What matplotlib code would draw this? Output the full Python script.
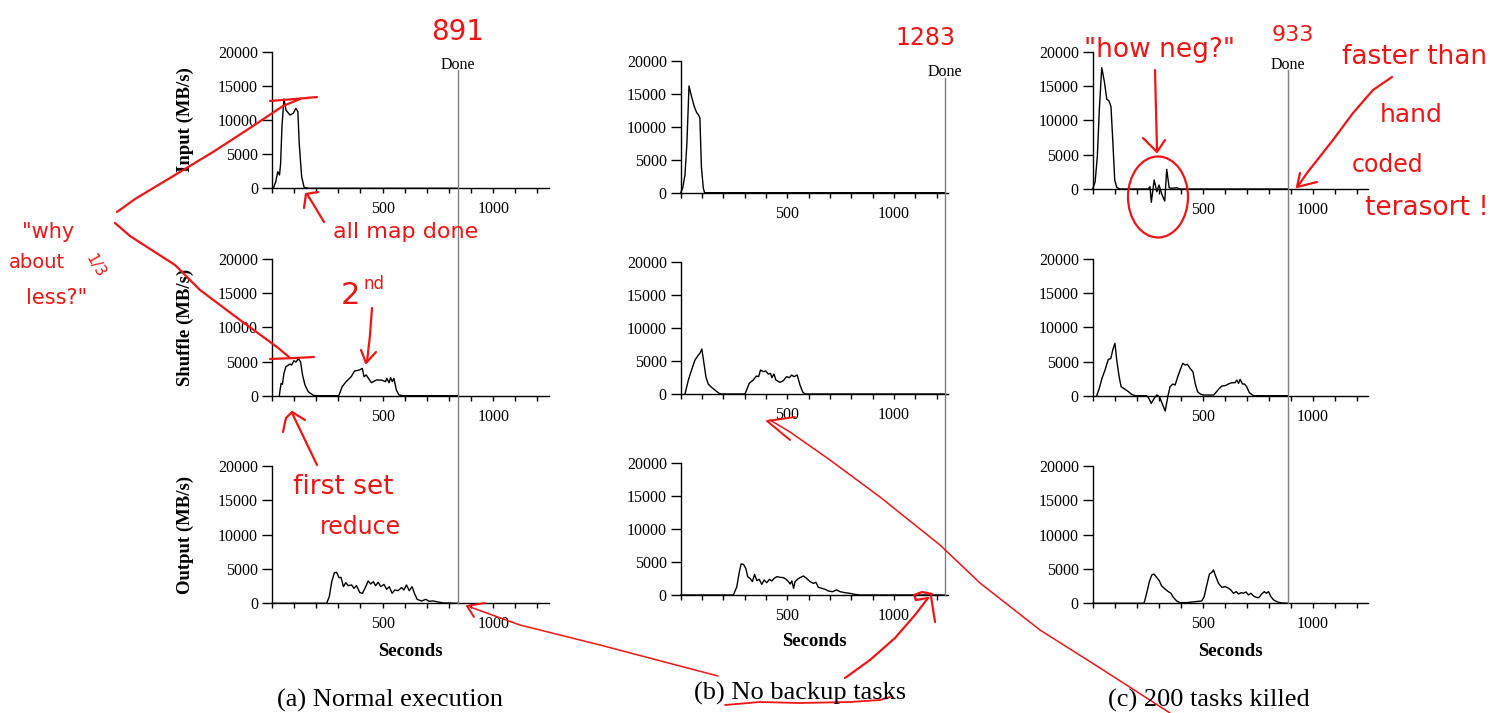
#MapReduce sort data rates (input / shuffle / output) with red hand notes on top
import matplotlib.pyplot as plt
import matplotlib.transforms as mtrans
from matplotlib.patches import Ellipse

plt.rcParams['font.family'] = ['Liberation Serif', 'DejaVu Serif']

W, H = 1501, 713

#values: seconds, MB/s
a_in_t = [2, 6, 17, 26, 34, 39, 45, 54, 63, 81, 96, 108, 117, 123, 134, 145, 164, 842]
a_in_v = [0, 0, 970, 2430, 1950, 3660, 9020, 13070, 11460, 10730, 10980, 11710, 11220, 6590, 1700, 150, 0, 0]
a_sh_t = [33, 41, 47, 54, 63, 81, 89, 99, 108, 119, 129, 138, 149, 164, 187, 202, 302, 317, 335, 358, 373, 396,
          408, 416, 426, 449, 471, 494, 513, 519, 529, 536, 544, 551, 562, 574, 592, 842]
a_sh_v = [0, 1810, 1660, 3280, 4240, 4630, 4490, 5120, 4920, 5410, 4970, 3030, 1570, 580, 50, 0, 0, 1320, 2050, 2780, 3610, 3760,
          4000, 2780, 3030, 1900, 2290, 2290, 2050, 2540, 1900, 2630, 2050, 2540, 830, 100, 0, 0]
a_out_t = [0, 247, 259, 270, 282, 292, 303, 312, 323, 333, 345, 360, 370, 382, 397, 409, 420, 435, 446, 458, 468, 480,
           492, 506, 518, 530, 543, 555, 570, 585, 596, 608, 620, 633, 645, 656, 676, 695, 710, 728, 751, 774, 842]
a_out_v = [0, 0, 970, 3150, 4460, 4510, 3730, 3780, 2420, 3000, 2570, 2670, 2180, 2570, 1550, 1460, 2180, 3250, 2810, 3150, 2570, 3060,
           2420, 2760, 2040, 2420, 1460, 1940, 1840, 2280, 1940, 2670, 1840, 2420, 1360, 580, 340, 580, 290, 340, 190, 50, 0]

b_in_t = [0, 9, 20, 29, 39, 51, 64, 75, 84, 90, 97, 106, 112, 1238]
b_in_v = [0, 670, 2690, 7500, 16210, 14580, 13040, 12150, 11800, 11290, 3950, 670, 0, 0]
b_sh_t = [20, 36, 51, 67, 83, 90, 99, 109, 118, 129, 141, 160, 180, 191, 301, 309, 321, 340, 355, 365, 374, 387, 398,
          410, 421, 427, 437, 446, 465, 481, 496, 509, 520, 531, 546, 559, 571, 581, 1238]
b_sh_v = [0, 2120, 3630, 5140, 5900, 6150, 6800, 4640, 2620, 1510, 1110, 600, 100, 0, 0, 600, 1610, 2120, 2720, 2620, 3630, 3380, 3480,
          3020, 3120, 2470, 3020, 2120, 1760, 2020, 2620, 2470, 2870, 2620, 2870, 1360, 350, 0, 0]
b_out_t = [0, 247, 263, 275, 283, 294, 305, 314, 325, 336, 346, 357, 368, 380, 391, 403, 416, 427, 438, 451, 466, 482, 494,
           505, 513, 521, 529, 536, 547, 559, 575, 590, 606, 622, 634, 645, 661, 677, 692, 711, 731, 747, 770, 793, 816, 840, 1238]
b_out_v = [0, 0, 1260, 3530, 4690, 4640, 4030, 2770, 2520, 2020, 3120, 2170, 2370, 1610, 2270, 1860, 2370, 2120, 2520, 2770, 2670, 2620, 2370,
           2020, 1660, 2120, 1010, 2020, 2370, 2620, 2870, 2520, 2020, 1760, 1910, 1160, 1010, 860, 600, 500, 760, 500, 350, 250, 100, 0, 0]

c_in_t = [0, 11, 21, 30, 41, 53, 64, 74, 83, 91, 100, 109, 124, 253, 260, 266, 279, 291, 301, 315, 327, 336, 347, 359, 382, 394, 887]
c_in_v = [0, 1060, 4710, 11510, 17680, 15630, 13070, 12830, 11990, 7140, 1310, 240, 0, 0, 340, -1940, 1310, -390, 580, -870,
          -1750, 2870, 190, 100, 190, 0, 0]
c_sh_t = [18, 30, 42, 56, 71, 82, 91, 101, 109, 120, 129, 140, 152, 162, 177, 192, 245, 254, 266, 279, 291, 303, 315, 329,
          341, 351, 364, 374, 386, 397, 409, 420, 430, 442, 455, 465, 476, 488, 503, 548, 556, 571, 586, 601, 616, 631, 646,
          654, 662, 669, 680, 689, 699, 711, 730, 887]
c_sh_v = [0, 1080, 2540, 3760, 5320, 5420, 6690, 7660, 5230, 2780, 1320, 1080, 830, 590, 200, 0, 0, -340, -1120, -390, 100, -150, -1120, -2240,
          -150, 1320, 1710, 1560, 2780, 3760, 4730, 4490, 4580, 4000, 3510, 1800, 590, 250, 100, 100, 340, 930, 1420, 1460, 1710, 1900, 1900,
          2290, 1800, 2390, 1710, 1710, 1320, 440, 0, 0]
c_out_t = [0, 233, 245, 257, 268, 278, 290, 302, 313, 328, 343, 355, 366, 381, 396, 427, 465, 495, 506, 518, 530, 541, 548, 559,
           571, 586, 602, 617, 627, 639, 651, 662, 674, 684, 696, 707, 718, 730, 742, 754, 767, 779, 788, 798, 809, 821, 839, 858, 888]
c_out_v = [0, 0, 1460, 3150, 4120, 4270, 3790, 3300, 2520, 2090, 1700, 1460, 870, 340, 100, 100, 240, 340, 970, 2670, 4270, 4510, 4860, 3880,
           2910, 2330, 2430, 2190, 1940, 1460, 1700, 1360, 1550, 1460, 1650, 1210, 1460, 1070, 870, 820, 1360, 1700, 1460, 1700, 970, 490, 190, 50, 0]

done_at = [842, 1238, 887]
x_max = [1252, 1254, 1251]
row_names = ['Input (MB/s)', 'Shuffle (MB/s)', 'Output (MB/s)']
captions = ['(a) Normal execution', '(b) No backup tasks', '(c) 200 tasks killed']
y_ticks = [0, 5000, 10000, 15000, 20000]
x_ticks = list(range(0, 1300, 100))

series = [[(a_in_t, a_in_v), (a_sh_t, a_sh_v), (a_out_t, a_out_v)],
          [(b_in_t, b_in_v), (b_sh_t, b_sh_v), (b_out_t, b_out_v)],
          [(c_in_t, c_in_v), (c_sh_t, c_sh_v), (c_out_t, c_out_v)]]

#layout in pixels: left, width, (top, bottom) of each row
cols = [(272, 277, [(51.7, 188.3), (259, 395.7), (466, 603.3)]),
        (680.7, 267.6, [(61, 192.7), (261.7, 394), (462.7, 595)]),
        (1092.7, 275.6, [(51.7, 189), (259, 395.7), (466, 603.3)])]
done_y = [(65, 70, 603.3), (72, 78, 595), (65, 70, 603.3)]
cap_xy = [(390, 700), (800, 693), (1209, 700)]

fig = plt.figure(figsize=(W / 100, H / 100), dpi=100)

#overlay for pixel-placed things (captions, red notes)
ov = fig.add_axes([0, 0, 1, 1], zorder=10)
ov.axis('off')

for c, (left, width, rows) in enumerate(cols):
    axes = []
    for r, (top, bot) in enumerate(rows):
        ax = fig.add_axes([left / W, 1 - bot / H, width / W, (bot - top) / H])
        t, v = series[c][r]
        ax.plot(t, v, color='black', lw=1.0, clip_on=False)
        ax.set_xlim(0, x_max[c])
        ax.set_ylim(0, 20000)
        for s in ['top', 'right']:
            ax.spines[s].set_visible(False)
        for s in ['left', 'bottom']:
            ax.spines[s].set_linewidth(1.0)
        ax.set_yticks(y_ticks)
        ax.set_yticklabels([str(y) for y in y_ticks])
        ax.set_xticks(x_ticks)
        ax.set_xticklabels([str(x) if x in (500, 1000) else '' for x in x_ticks])
        ax.tick_params(axis='y', direction='out', length=7.5, width=1, pad=2.5, labelsize=11.5)
        ax.tick_params(axis='x', direction='out', length=3.5, width=1, pad=6, labelsize=11.5)
        ax.patch.set_alpha(0)
        if c == 0:
            ax.set_ylabel(row_names[r], fontsize=13.5, fontweight='bold')
            ax.yaxis.set_label_coords(-0.28, 0.5)
        if r == 2:
            ax.set_xlabel('Seconds', fontsize=13.5, fontweight='bold')
            ax.xaxis.set_label_coords(0.5, -0.29)
        axes.append(ax)
    #Done marker: x in data seconds, y in overlay pixels
    tr = mtrans.blended_transform_factory(axes[2].transData, ov.transData)
    ty, ly0, ly1 = done_y[c]
    ov.plot([done_at[c], done_at[c]], [ly0, ly1], transform=tr, color='#7f7f7f', lw=1.0)
    ov.text(done_at[c], ty, 'Done', transform=tr, ha='center', va='center', fontsize=11.5)
    ov.text(cap_xy[c][0], cap_xy[c][1], captions[c], ha='center', va='center', fontsize=19)

#red hand notes
red = '#f01414'
hand = ['DejaVu Sans']

def stroke(pts, lw=1.6):
    ov.plot([p[0] for p in pts], [p[1] for p in pts], color=red, lw=lw,
            solid_capstyle='round', solid_joinstyle='round')

def note(x, y, s, size, rot=0):
    ov.text(x, y, s, color=red, fontsize=size, family=hand, ha='center', va='center', rotation=rot)

note(458, 32, '891', 20)
note(925, 38, '1283', 17)
note(1293, 35, '933', 16)
note(406, 232, 'all map done', 16)
note(350, 295, '2', 22)
note(374, 284, 'nd', 12)
note(343, 487, 'first set', 19)
note(360, 527, 'reduce', 17)
note(48, 232, '"why', 15)
note(37, 262, 'about', 14)
note(95, 266, '1/3', 11, rot=-60)
note(57, 298, 'less?"', 15)
note(1160, 50, '"how neg?"', 19)
note(1415, 57, 'faster than', 19)
note(1411, 115, 'hand', 18)
note(1388, 165, 'coded', 17)
note(1427, 208, 'terasort !', 19)

stroke([(117, 212), (135, 199), (170, 178), (213, 152), (250, 128), (283, 106), (300, 99)])
stroke([(270, 101), (295, 99), (317, 97)])
stroke([(115, 223), (130, 236), (147, 247), (175, 265), (200, 290), (240, 320), (277, 347), (289, 357)])
stroke([(270, 359), (295, 358), (314, 357)])
stroke([(324, 222), (315, 207), (307, 194)])
stroke([(304, 208), (306, 194), (318, 192)])
stroke([(372, 308), (370, 335), (367, 362)])
stroke([(361, 350), (366, 363), (376, 352)])
stroke([(317, 465), (305, 440), (292, 413)])
stroke([(283, 432), (286, 418), (292, 412), (305, 420)])
stroke([(718, 676), (600, 645), (520, 625), (470, 607)], lw=1.1)
stroke([(485, 603), (467, 606), (474, 617)], lw=1.4)
stroke([(845, 678), (870, 660), (895, 638), (915, 615), (928, 598)])
stroke([(928, 598), (916, 600), (914, 595), (922, 592), (932, 594)])
stroke([(931, 596), (935, 622)])
stroke([(1170, 713), (1100, 668), (1040, 630), (980, 583), (940, 545), (880, 497), (830, 460), (790, 432), (770, 420)], lw=1.1)
stroke([(795, 417), (767, 421), (790, 440)], lw=1.4)
stroke([(725, 705), (760, 702), (800, 703), (850, 702), (880, 700), (890, 697)], lw=1.3)
stroke([(1155, 70), (1156, 110), (1157, 150)])
stroke([(1143, 138), (1157, 152), (1165, 140)])
ov.add_patch(Ellipse((1158, 197), 60, 81, fill=False, edgecolor=red, lw=1.6))
stroke([(1392, 77), (1373, 90), (1353, 113), (1333, 140), (1307, 173), (1298, 186)])
stroke([(1300, 173), (1297, 187), (1317, 182)])

ov.set_xlim(0, W)
ov.set_ylim(H, 0)

fig.savefig('out.png', dpi=100)
